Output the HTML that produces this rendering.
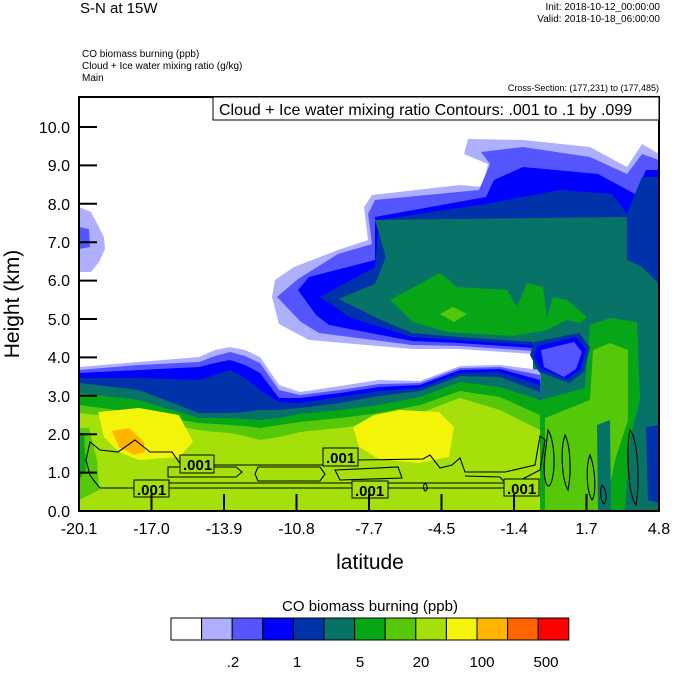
<!DOCTYPE html>
<html><head><meta charset="utf-8"><style>
html,body{margin:0;padding:0;background:#fff;}
body{width:674px;height:668px;overflow:hidden;font-family:"Liberation Sans",sans-serif;}
</style></head><body>
<svg width="674" height="668" xmlns="http://www.w3.org/2000/svg" font-family="Liberation Sans, sans-serif">
<defs><clipPath id="pc"><rect x="79" y="97" width="580" height="414"/></clipPath></defs>
<g clip-path="url(#pc)">
<rect x="79" y="97" width="580" height="414" fill="#fff"/>
<g transform="translate(79,97)">
<polygon fill="#AFAFFF" points="193,200 196,183 215,170 259,153 289,143 285,110 293,98 381,88 404,90 409,67 385,57 389,42 444,43 511,50 548,70 563,47 580,57 580,414 454,414 454,257 380,252 333,252 230,243 200,227"/>
<polygon fill="#AFAFFF" points="0,110 12,115 25,140 26,152 20,165 12,175 0,175"/>
<polygon fill="#5555FF" points="198,200 219,182 259,157 293,147 289,117 296,103 400,93 411,67 402,55 444,50 511,60 548,77 563,57 580,63 580,414 454,414 454,254 380,249 333,248 240,236 222,225"/>
<polygon fill="#5555FF" points="0,130 10,132 11,150 0,152"/>
<polygon fill="#0000FF" points="219,193 230,180 296,163 296,120 407,100 415,83 444,70 519,77 556,97 567,73 580,73 580,414 454,414 454,251 380,246 333,244 250,228 237,218"/>
<polygon fill="#0033AA" points="241,200 296,170 300,123 407,107 481,93 533,97 548,117 563,80 580,80 580,414 454,414 454,248 380,243 333,240 270,220 259,212"/>
<polygon fill="#067366" points="259,202 296,187 307,160 296,123 548,120 548,163 563,170 580,187 580,414 454,414 454,245 380,240 333,236 300,222 280,212"/>
<polygon fill="#06A616" points="311,203 361,176 378,190 428,193 438,210 448,186 464,190 468,220 474,200 488,203 508,220 501,226 488,223 468,233 434,239 368,235 334,225"/>
<polygon fill="#55C80A" points="361,217 374,210 388,217 375,225"/>
</g>
<polygon fill="#AFAFFF" points="79,367 139,362 199,357 215,350 230,347 245,350 260,357 279,385 300,392 340,386 379,380 420,381 460,366 500,365 540,370 545,511 79,511"/>
<polygon fill="#5555FF" points="79,370 139,365 199,362 215,356 230,352 245,356 260,363 279,390 300,395 340,390 379,384 420,383 460,368 500,367 540,375 545,511 79,511"/>
<polygon fill="#0000FF" points="79,373 139,370 199,367 215,363 230,360 245,365 260,373 279,398 300,398 340,393 379,387 420,385 460,370 500,369 540,380 545,511 79,511"/>
<polygon fill="#0033AA" points="79,378 139,378 199,380 215,375 230,370 245,378 260,390 279,402 300,403 340,397 379,391 420,388 460,373 500,372 540,385 545,511 79,511"/>
<polygon fill="#067366" points="79,383 139,390 199,413 215,413 230,413 245,412 260,410 279,410 300,408 340,403 379,396 420,391 460,376 500,377 540,392 545,511 79,511"/>
<polygon fill="#06A616" points="79,393 139,400 199,418 215,418 230,418 245,419 260,420 279,418 300,414 340,410 379,405 420,397 460,382 500,387 540,400 545,511 79,511"/>
<polygon fill="#55C80A" points="79,405 139,413 199,423 215,424 230,425 245,426 260,428 279,425 300,422 340,418 379,413 420,405 460,391 500,397 540,415 545,511 79,511"/>
<polygon fill="#A6E00A" points="79,413 139,420 199,430 215,432 230,433 245,436 260,440 279,437 300,432 340,428 379,423 420,413 460,398 500,410 540,430 545,511 79,511"/>
<polygon fill="#55C80A" points="79,428 89,428 97,460 99,490 79,500"/>
<polygon fill="#06A616" points="79,433 84,433 86,470 79,480"/>
<polygon fill="#F4F40A" points="98,412 139,408 179,415 193,442 179,457 139,460 119,452 104,437"/>
<polygon fill="#F4F40A" points="374,415 399,410 439,412 454,427 449,457 419,463 379,459 359,447 353,427"/>
<polygon fill="#FFB400" points="112,431 129,428 144,442 145,452 134,455 119,447"/>
<!-- right column -->
<polygon fill="#067366" points="583,330 659,290 659,511 597,511 597,420 560,400 540,392 583,385"/>
<polygon fill="#06A616" points="590,325 610,318 637,322 640,400 630,440 625,511 540,511 540,400 585,388"/>
<polygon fill="#55C80A" points="593,350 610,343 628,350 628,420 615,460 605,511 545,511 545,418 590,400"/>
<polygon fill="#067366" points="597,425 610,420 611,511 598,511"/>
<polygon fill="#067366" points="634,420 646,410 659,415 659,511 636,511"/>
<polygon fill="#0033AA" points="646,427 659,425 659,503 648,500"/>
<!-- hook -->
<polygon fill="#0033AA" points="534,342 579,333 590,347 584,372 569,383 539,372 530,355"/>
<polygon fill="#0000FF" points="537,346 576,337 586,349 580,370 567,379 541,369 534,356"/>
<polygon fill="#5555FF" points="541,350 574,342 582,352 576,369 564,377 544,367"/>
<g fill="none" stroke="#000" stroke-width="1.1">
<path d="M90,442 L86,460 L90,475 L95,482 L100,488 L505,488 L540,470 L545,440 L540,436 L535,465 L505,472 L465,472 L460,458 L452,465 L440,468 L430,455 L423,459 L358,460 L323,465 L181,465 L172,452 L150,452 L135,440 L118,452 L100,450 Z"/>
<path d="M135,480 L150,483 L505,483 L500,477 L465,476"/>
<path d="M168,467 L236,467 L242,472 L236,477 L168,477 Z"/>
<path d="M258,467 L320,467 L325,474 L320,481 L258,481 L255,474 Z"/>
<path d="M335,470 L398,467 L402,478 L340,480 Z"/>
<path d="M548,430 C554,440 556,465 552,480 C548,495 542,480 545,455 Z"/>
<path d="M565,435 C570,445 572,470 568,490 C562,480 560,450 565,435 Z"/>
<path d="M590,455 C596,470 596,495 592,500 C586,490 586,465 590,455 Z"/>
<path d="M630,430 C638,440 640,480 636,505 C628,495 626,450 630,430 Z"/>
<path d="M602,485 C607,490 607,500 604,504 C600,500 600,490 602,485 Z"/>
<path d="M425,483 C428,486 428,490 425,491 C423,489 423,485 425,483 Z"/>
</g>
</g>
<g font-size="15" font-weight="bold">
<rect x="180" y="455" width="34" height="18" fill="#A6E00A" stroke="#000"/><text x="183" y="470">.001</text>
<rect x="323" y="448" width="35" height="18" fill="#A6E00A" stroke="#000"/><text x="326" y="463">.001</text>
<rect x="134" y="480" width="35" height="17" fill="#A6E00A" stroke="#000"/><text x="137" y="495">.001</text>
<rect x="352" y="481" width="36" height="17" fill="#A6E00A" stroke="#000"/><text x="355" y="496">.001</text>
<rect x="504" y="479" width="35" height="17" fill="#A6E00A" stroke="#000"/><text x="507" y="494">.001</text>
</g>
<rect x="79" y="97" width="580" height="414" fill="none" stroke="#000" stroke-width="2"/>
<rect x="213" y="97" width="446" height="23" fill="#fff" stroke="#000" stroke-width="1"/>
<text x="219" y="115" font-size="16">Cloud + Ice water mixing ratio Contours: .001 to .1 by .099</text>
<g stroke="#000" stroke-width="2">
<line x1="79" y1="127" x2="97" y2="127"/><line x1="79" y1="165.4" x2="97" y2="165.4"/><line x1="79" y1="203.8" x2="97" y2="203.8"/><line x1="79" y1="242.2" x2="97" y2="242.2"/><line x1="79" y1="280.6" x2="97" y2="280.6"/><line x1="79" y1="319" x2="97" y2="319"/><line x1="79" y1="357.4" x2="97" y2="357.4"/><line x1="79" y1="395.8" x2="97" y2="395.8"/><line x1="79" y1="434.2" x2="97" y2="434.2"/><line x1="79" y1="472.6" x2="97" y2="472.6"/>
<line x1="151.5" y1="511" x2="151.5" y2="494"/><line x1="224" y1="511" x2="224" y2="494"/><line x1="296.5" y1="511" x2="296.5" y2="494"/><line x1="369" y1="511" x2="369" y2="494"/><line x1="441.5" y1="511" x2="441.5" y2="494"/><line x1="514" y1="511" x2="514" y2="494"/><line x1="586.5" y1="511" x2="586.5" y2="494"/>
</g>
<g font-size="16" text-anchor="end">
<text x="70" y="133">10.0</text><text x="70" y="171">9.0</text><text x="70" y="210">8.0</text><text x="70" y="248">7.0</text><text x="70" y="286">6.0</text><text x="70" y="325">5.0</text><text x="70" y="363">4.0</text><text x="70" y="402">3.0</text><text x="70" y="440">2.0</text><text x="70" y="478">1.0</text><text x="70" y="517">0.0</text>
</g>
<g font-size="16" text-anchor="middle">
<text x="79" y="534">-20.1</text><text x="151.5" y="534">-17.0</text><text x="224" y="534">-13.9</text><text x="296.5" y="534">-10.8</text><text x="369" y="534">-7.7</text><text x="441.5" y="534">-4.5</text><text x="514" y="534">-1.4</text><text x="586.5" y="534">1.7</text><text x="659" y="534">4.8</text>
</g>
<text x="370" y="569" font-size="21" text-anchor="middle">latitude</text>
<text transform="translate(19,304) rotate(-90)" font-size="21" text-anchor="middle">Height (km)</text>
<text x="80" y="13" font-size="15">S-N at 15W</text>
<text x="660" y="10" font-size="10" text-anchor="end">Init: 2018-10-12_00:00:00</text>
<text x="660" y="22" font-size="10" text-anchor="end">Valid: 2018-10-18_06:00:00</text>
<text x="82" y="57" font-size="10">CO biomass burning   (ppb)</text>
<text x="82" y="69" font-size="10">Cloud + Ice water mixing ratio   (g/kg)</text>
<text x="82" y="81" font-size="10">Main</text>
<text x="659" y="91" font-size="9" text-anchor="end">Cross-Section: (177,231) to (177,485)</text>
<text x="370" y="611" font-size="15" text-anchor="middle">CO biomass burning  (ppb)</text>
<g stroke="#000" stroke-width="1">
<rect x="171" y="618" width="30.6" height="22" fill="#fff"/>
<rect x="201.6" y="618" width="30.6" height="22" fill="#AFAFFF"/>
<rect x="232.2" y="618" width="30.6" height="22" fill="#5555FF"/>
<rect x="262.8" y="618" width="30.6" height="22" fill="#0000FF"/>
<rect x="293.4" y="618" width="30.6" height="22" fill="#0033AA"/>
<rect x="324" y="618" width="30.6" height="22" fill="#067366"/>
<rect x="354.6" y="618" width="30.6" height="22" fill="#06A616"/>
<rect x="385.2" y="618" width="30.6" height="22" fill="#55C80A"/>
<rect x="415.8" y="618" width="30.6" height="22" fill="#A6E00A"/>
<rect x="446.4" y="618" width="30.6" height="22" fill="#F4F40A"/>
<rect x="477" y="618" width="30.6" height="22" fill="#FFB400"/>
<rect x="507.6" y="618" width="30.6" height="22" fill="#FF6400"/>
<rect x="538.2" y="618" width="30.6" height="22" fill="#FF0000"/>
</g>
<g font-size="15" text-anchor="middle">
<text x="233" y="667">.2</text><text x="297" y="667">1</text><text x="360" y="667">5</text><text x="421" y="667">20</text><text x="482" y="667">100</text><text x="546" y="667">500</text>
</g>
</svg>
</body></html>
